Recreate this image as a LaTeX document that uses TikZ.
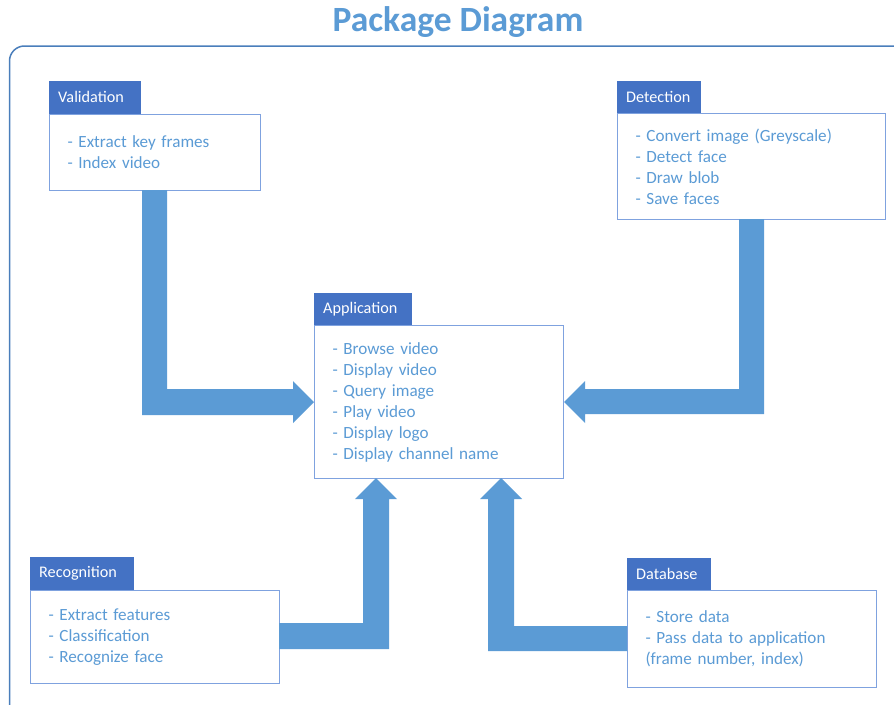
\documentclass[tikz,border=0pt]{standalone}
\usepackage{fontspec}
\setmainfont{Carlito}
\definecolor{tabblue}{HTML}{4472C4}
\definecolor{txtblue}{HTML}{5B9BD5}
\definecolor{arrblue}{HTML}{5B9BD5}
\definecolor{boxline}{HTML}{7FA2DF}
\definecolor{frameline}{HTML}{4A7EBB}
\tikzset{
  pbox/.style={draw=boxline, line width=1pt, fill=white, rectangle, anchor=north west,
    inner xsep=18pt, inner ysep=0pt, align=left, text=txtblue,
    font=\fontsize{17.1}{21}\selectfont},
  ptab/.style={fill=tabblue, rectangle, anchor=south west, inner xsep=9pt, inner ysep=0pt,
    align=left, text=white, font=\fontsize{16.2}{18}\selectfont},
  bigarrow/.style={fill=arrblue, draw=none},
  titletext/.style={text=txtblue, font=\fontsize{35.5}{40}\selectfont\bfseries, inner sep=0pt}
}
\begin{document}
\begin{tikzpicture}[x=1pt,y=-1pt]
\useasboundingbox (0,0) rectangle (894,704);
% frame
\begin{scope}
\clip (0,0) rectangle (894,704);
\draw[frameline, line width=1.5pt, rounded corners=15pt] (9.5,46) rectangle (920,720);
\end{scope}
% title
\node[titletext] (title) at (458,22) {Package Diagram};

% boxes
\node[pbox, minimum width=211pt, minimum height=76pt, text width=175pt] (val) at (49,114)
  {- Extract key frames\\- Index video};
\node[ptab, minimum width=92pt, minimum height=33pt, text width=74pt] (valtab) at (val.north west) {Validation};

\node[pbox, minimum width=268pt, minimum height=106pt, text width=232pt] (det) at (617,113)
  {- Convert image (Greyscale)\\- Detect face\\- Draw blob\\- Save faces};
\node[ptab, minimum width=84pt, minimum height=32pt, text width=66pt] (dettab) at (det.north west) {Detection};

\node[pbox, minimum width=249pt, minimum height=153pt, text width=213pt] (app) at (314,325)
  {- Browse video\\- Display video\\- Query image\\- Play video\\- Display logo\\- Display channel name};
\node[ptab, minimum width=98pt, minimum height=32pt, text width=80pt] (apptab) at (app.north west) {Application};

\node[pbox, minimum width=249pt, minimum height=93pt, text width=213pt] (rec) at (30,590)
  {- Extract features\\- Classification\\- Recognize face};
\node[ptab, minimum width=104pt, minimum height=33pt, text width=86pt] (rectab) at (rec.north west) {Recognition};

\node[pbox, minimum width=249pt, minimum height=97pt, text width=213pt] (db) at (627,590)
  {- Store data\\- Pass data to application\\(frame number, index)};
\node[ptab, minimum width=84pt, minimum height=32pt, text width=66pt] (dbtab) at (db.north west) {Database};

% arrows
\fill[bigarrow] (142,190) -- (167,190) -- (167,389) -- (293,389) -- (293,381) -- (app.west)
  -- (293,423) -- (293,415) -- (142,415) -- cycle;
\fill[bigarrow] (739,219) -- (764,219) -- (764,414) -- (585,414) -- (585,423) -- (app.east)
  -- (585,381) -- (585,389) -- (739,389) -- cycle;
\fill[bigarrow] (279,623) -- (363,623) -- (363,499) -- (355,499) -- (376,478)
  -- (397,499) -- (389,499) -- (389,649) -- (279,649) -- cycle;
\fill[bigarrow] (627,626) -- (514,626) -- (514,499) -- (522,499) -- (501,478)
  -- (480,499) -- (488,499) -- (488,651) -- (627,651) -- cycle;
\end{tikzpicture}
\end{document}
